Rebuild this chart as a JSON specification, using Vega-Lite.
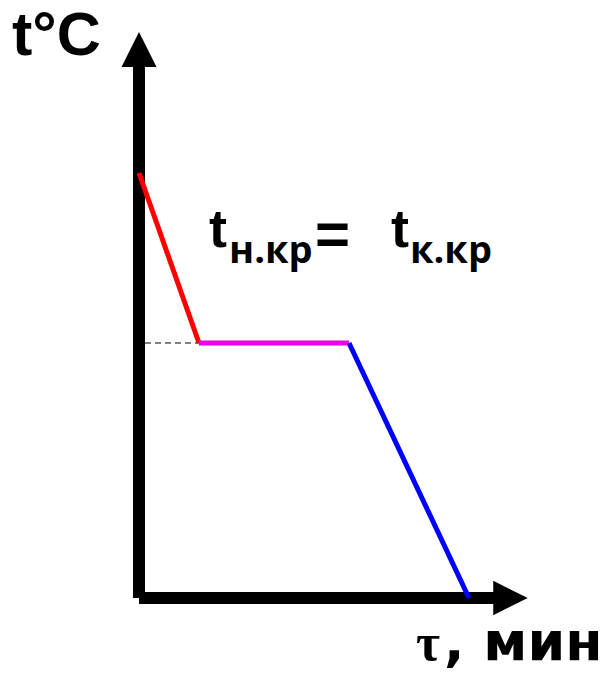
{
  "$schema": "https://vega.github.io/schema/vega-lite/v6.json",
  "width": 609,
  "height": 675,
  "autosize": {"type": "fit", "contains": "padding"},
  "padding": 0,
  "background": "white",
  "config": {"view": {"stroke": null}},
  "datasets": {
    "axes": [
      {"t": 0, "T": 0, "t2": 0, "T2": 12.6},
      {"t": 0, "T": 0, "t2": 11.9, "T2": 0}
    ],
    "curve": [
      {"phase": "cooling liquid", "t": 0, "T": 10},
      {"phase": "cooling liquid", "t": 2, "T": 6},
      {"phase": "crystallization", "t": 2, "T": 6},
      {"phase": "crystallization", "t": 7, "T": 6},
      {"phase": "cooling solid", "t": 7, "T": 6},
      {"phase": "cooling solid", "t": 11, "T": 0}
    ]
  },
  "layer": [
    {
      "data": {"name": "axes"},
      "mark": {"type": "rule", "color": "black", "strokeWidth": 12, "strokeCap": "butt"},
      "encoding": {
        "x": {"field": "t", "type": "quantitative", "axis": null, "scale": {"domain": [-4.6333, 15.6667], "nice": false, "zero": false}},
        "y": {"field": "T", "type": "quantitative", "axis": null, "scale": {"domain": [-1.8118, 14.0706], "nice": false, "zero": false}},
        "x2": {"field": "t2"},
        "y2": {"field": "T2"}
      }
    },
    {
      "data": {"values": [{"t": 0, "T": 12.906}]},
      "mark": {"type": "point", "shape": "M0,-1L1,1L-1,1Z", "size": 1225, "filled": true, "color": "black", "opacity": 1},
      "encoding": {
        "x": {"field": "t", "type": "quantitative", "axis": null, "scale": {"domain": [-4.6333, 15.6667], "nice": false, "zero": false}},
        "y": {"field": "T", "type": "quantitative", "axis": null, "scale": {"domain": [-1.8118, 14.0706], "nice": false, "zero": false}}
      }
    },
    {
      "data": {"values": [{"t": 12.383, "T": 0}]},
      "mark": {"type": "point", "shape": "M1,0L-1,1L-1,-1Z", "size": 1190, "filled": true, "color": "black", "opacity": 1},
      "encoding": {
        "x": {"field": "t", "type": "quantitative", "axis": null, "scale": {"domain": [-4.6333, 15.6667], "nice": false, "zero": false}},
        "y": {"field": "T", "type": "quantitative", "axis": null, "scale": {"domain": [-1.8118, 14.0706], "nice": false, "zero": false}}
      }
    },
    {
      "data": {"values": [{"t": 0.2, "t2": 2, "T": 6}]},
      "mark": {"type": "rule", "color": "black", "strokeWidth": 1, "strokeDash": [6, 4]},
      "encoding": {
        "x": {"field": "t", "type": "quantitative", "axis": null, "scale": {"domain": [-4.6333, 15.6667], "nice": false, "zero": false}},
        "x2": {"field": "t2"},
        "y": {"field": "T", "type": "quantitative", "axis": null, "scale": {"domain": [-1.8118, 14.0706], "nice": false, "zero": false}}
      }
    },
    {
      "data": {"name": "curve"},
      "mark": {"type": "line", "strokeWidth": 5, "strokeCap": "butt"},
      "encoding": {
        "x": {"field": "t", "type": "quantitative", "axis": null, "scale": {"domain": [-4.6333, 15.6667], "nice": false, "zero": false}},
        "y": {"field": "T", "type": "quantitative", "axis": null, "scale": {"domain": [-1.8118, 14.0706], "nice": false, "zero": false}},
        "color": {"field": "phase", "type": "nominal", "legend": null, "scale": {"domain": ["cooling liquid", "crystallization", "cooling solid"], "range": ["#ff0000", "#e600e6", "#0000ff"]}},
        "detail": {"field": "phase"}
      }
    },
    {
      "data": {"values": [{"label": "t°C", "t": -4.233, "T": 12.765}]},
      "mark": {"type": "text", "font": "Liberation Sans", "fontWeight": "bold", "fontSize": 61, "align": "left", "baseline": "alphabetic", "color": "black"},
      "encoding": {
        "x": {"field": "t", "type": "quantitative", "axis": null, "scale": {"domain": [-4.6333, 15.6667], "nice": false, "zero": false}},
        "y": {"field": "T", "type": "quantitative", "axis": null, "scale": {"domain": [-1.8118, 14.0706], "nice": false, "zero": false}},
        "text": {"field": "label"}
      }
    },
    {
      "data": {"values": [{"label": "t", "t": 2.333, "T": 8.259}, {"label": "t", "t": 8.4, "T": 8.259}]},
      "mark": {"type": "text", "font": "Liberation Sans", "fontWeight": "bold", "fontSize": 54, "align": "left", "baseline": "alphabetic", "color": "black"},
      "encoding": {
        "x": {"field": "t", "type": "quantitative", "axis": null, "scale": {"domain": [-4.6333, 15.6667], "nice": false, "zero": false}},
        "y": {"field": "T", "type": "quantitative", "axis": null, "scale": {"domain": [-1.8118, 14.0706], "nice": false, "zero": false}},
        "text": {"field": "label"}
      }
    },
    {
      "data": {"values": [{"label": "=", "t": 5.867, "T": 8.094}]},
      "mark": {"type": "text", "font": "Liberation Sans", "fontWeight": "bold", "fontSize": 60, "align": "left", "baseline": "alphabetic", "color": "black"},
      "encoding": {
        "x": {"field": "t", "type": "quantitative", "axis": null, "scale": {"domain": [-4.6333, 15.6667], "nice": false, "zero": false}},
        "y": {"field": "T", "type": "quantitative", "axis": null, "scale": {"domain": [-1.8118, 14.0706], "nice": false, "zero": false}},
        "text": {"field": "label"}
      }
    },
    {
      "data": {"values": [{"label": "н.кр", "t": 3.0, "T": 7.882}, {"label": "к.кр", "t": 9.033, "T": 7.882}]},
      "mark": {"type": "text", "font": "Open Sans", "fontWeight": "bold", "fontSize": 38, "align": "left", "baseline": "alphabetic", "color": "black"},
      "encoding": {
        "x": {"field": "t", "type": "quantitative", "axis": null, "scale": {"domain": [-4.6333, 15.6667], "nice": false, "zero": false}},
        "y": {"field": "T", "type": "quantitative", "axis": null, "scale": {"domain": [-1.8118, 14.0706], "nice": false, "zero": false}},
        "text": {"field": "label"}
      }
    },
    {
      "data": {"values": [{"label": "τ", "t": 9.233, "T": -1.459}]},
      "mark": {"type": "text", "font": "Liberation Serif", "fontWeight": "bold", "fontSize": 52, "align": "left", "baseline": "alphabetic", "color": "black"},
      "encoding": {
        "x": {"field": "t", "type": "quantitative", "axis": null, "scale": {"domain": [-4.6333, 15.6667], "nice": false, "zero": false}},
        "y": {"field": "T", "type": "quantitative", "axis": null, "scale": {"domain": [-1.8118, 14.0706], "nice": false, "zero": false}},
        "text": {"field": "label"}
      }
    },
    {
      "data": {"values": [{"label": ", мин", "t": 10.167, "T": -1.459}]},
      "mark": {"type": "text", "font": "DejaVu Sans", "fontWeight": "bold", "fontSize": 54, "align": "left", "baseline": "alphabetic", "color": "black"},
      "encoding": {
        "x": {"field": "t", "type": "quantitative", "axis": null, "scale": {"domain": [-4.6333, 15.6667], "nice": false, "zero": false}},
        "y": {"field": "T", "type": "quantitative", "axis": null, "scale": {"domain": [-1.8118, 14.0706], "nice": false, "zero": false}},
        "text": {"field": "label"}
      }
    }
  ]
}
